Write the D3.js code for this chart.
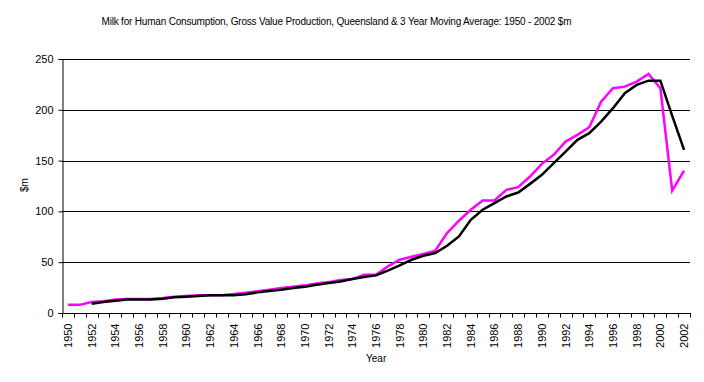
<!DOCTYPE html>
<html><head><meta charset="utf-8">
<script src="https://cdn.jsdelivr.net/npm/d3@7"></script>
<style>body{margin:0;background:#fff}svg{display:block}text{font-family:"Liberation Sans",Arial,sans-serif;fill:#000}</style>
</head><body><svg id="c" width="704" height="382"></svg>
<script>
const years = d3.range(1950, 2003);
const actual = [8,8,10.8,11.5,13.4,13.7,13.7,13.7,14.7,16,16.7,17.4,17.4,17.4,18.7,20,21.3,23,24.6,25.9,27.2,29.1,30.4,32.4,33.4,37.7,37.7,45.9,52.4,55.4,58.1,61.3,78.7,90.8,101.6,110.7,110.7,121.2,123.9,134.3,146.8,155.7,168.7,175.3,182.9,208,221.2,222.8,227.7,235.3,221.2,120.5,140.2];
const movingAvg = [null,null,9,10.8,12,13.4,13.4,13.4,14,15.4,16,16.8,17.4,17.4,17.4,18.4,20.3,21.6,22.8,24.6,25.9,27.8,29.5,31.1,33.4,35.4,37,41.8,46.9,52.4,56.3,59,66.2,75.3,91.7,101.6,108.2,114.7,118.6,127.1,136,147.5,158.9,170.4,177,188.4,201.6,216.3,224.5,228.7,228.7,194,160.6];
const yTicks = [0,50,100,150,200,250];
const xTickLabels = years.filter(y => y % 2 === 0);
const title = "Milk for Human Consumption, Gross Value Production, Queensland & 3 Year Moving Average: 1950 - 2002 $m";

const svg = d3.select("#c");
const L = 62, R = 690, T = 59, B = 313;
const x = d3.scaleBand().domain(years).range([L, R]);
const y = d3.scaleLinear().domain([0, 250]).range([B, T]);

svg.append("text").attr("x", 101.5).attr("y", 25).attr("font-size", 10)
  .attr("textLength", 470).attr("lengthAdjust", "spacing").text(title);

// gridlines
svg.append("g").selectAll("line").data(yTicks.filter(d => d > 0)).join("line")
  .attr("x1", L).attr("x2", R).attr("y1", d => Math.round(y(d)) + 0.5).attr("y2", d => Math.round(y(d)) + 0.5)
  .attr("stroke", "#000").attr("stroke-width", 1);

// y axis
const ya = svg.append("g").attr("transform", `translate(${L + 0.5},0)`)
  .call(d3.axisLeft(y).tickValues(yTicks).tickSize(4).tickPadding(5).tickFormat(d3.format("d")));
ya.select(".domain").attr("stroke", "#000");
ya.selectAll("text").attr("font-size", 11).style("font-family", '"Liberation Sans",Arial,sans-serif');

// x axis
const xa = svg.append("g").attr("transform", `translate(0,${B + 0.5})`);
xa.append("line").attr("x1", L).attr("x2", R + 1).attr("stroke", "#000");
xa.selectAll("line.t").data(d3.range(years.length + 1)).join("line").attr("class", "t")
  .attr("x1", i => Math.round(L + i * x.step()) + 0.5).attr("x2", i => Math.round(L + i * x.step()) + 0.5)
  .attr("y1", 0).attr("y2", 4).attr("stroke", "#000");
xa.selectAll("text").data(xTickLabels).join("text")
  .attr("transform", d => `translate(${x(d) + x.bandwidth() / 2 + 4},10) rotate(-90)`)
  .attr("text-anchor", "end").attr("font-size", 11).text(d => d);

svg.append("text").attr("x", 366).attr("y", 362).attr("font-size", 10).text("Year");
svg.append("text").attr("transform", "translate(28,185) rotate(-90)").attr("text-anchor", "middle")
  .attr("font-size", 10).text("$m");

const cx = d => x(d) + x.bandwidth() / 2;
const line = d3.line().defined(d => d[1] != null).x(d => cx(d[0])).y(d => y(d[1]));
svg.append("path").datum(years.map((yr, i) => [yr, actual[i]])).attr("d", line)
  .attr("fill", "none").attr("stroke", "#FF00FF").attr("stroke-width", 2.5);
svg.append("path").datum(years.map((yr, i) => [yr, movingAvg[i]])).attr("d", line)
  .attr("fill", "none").attr("stroke", "#000").attr("stroke-width", 2.5);
</script></body></html>
